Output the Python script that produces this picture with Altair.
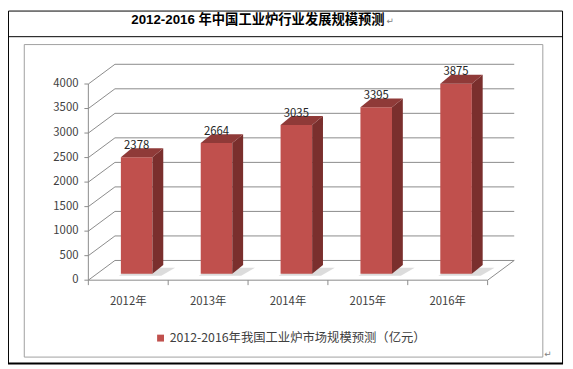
import altair as alt
import pandas as pd

# ---- data ----
years = ["2012年", "2013年", "2014年", "2015年", "2016年"]
values = [2378, 2664, 3035, 3395, 3875]
y_ticks = [0, 500, 1000, 1500, 2000, 2500, 3000, 3500, 4000]
title_text = "2012-2016 年中国工业炉行业发展规模预测"
legend_text = "2012-2016年我国工业炉市场规模预测（亿元）"
series_name = [legend_text]

# ---- styling ----
FONT = "Noto Sans CJK SC"
FRONT = "#C0504D"
SIDE = "#7A2F2D"
TOP = "#8F3A38"
GRID = "#8A8A8A"
TXT = "#404040"

X_RANGE = [81.5, 486.5]      # pixel range of the front category axis
Y_RANGE = [273.5, 74.5]      # pixel range of 0..4000 on the front value axis
Y_MAX = 4000
n = len(years)
PX_X = (X_RANGE[1] - X_RANGE[0]) / n
PX_Y = (Y_RANGE[0] - Y_RANGE[1]) / Y_MAX

DX, DY = 27, -20             # wall / floor depth (px)
BX, BY = 8.5, -6.5           # bar placement inside the depth (px)
BAR_W = 32                   # bar front width (px)
BDX, BDY = 11, -9            # bar depth (px)

xs = alt.Scale(domain=[0, n], range=X_RANGE, nice=False, zero=False)
ys = alt.Scale(domain=[0, Y_MAX], range=Y_RANGE, nice=False, zero=False)


def X(f):
    return alt.X(f, scale=xs, axis=None, stack=None)


def Y(f):
    return alt.Y(f, scale=ys, axis=None, stack=None)


# ---- tables built from the arrays ----
grid = pd.DataFrame({"v": y_ticks, "x0": 0, "x1": n,
                     "label": [str(t) for t in y_ticks]})
xt = pd.DataFrame({"t": list(range(n + 1)), "z": 0})
floor_r = pd.DataFrame({"x": [n], "z": [0]})
front_axis = pd.DataFrame({"x0": [0], "x1": [n], "z": [0], "top": [Y_MAX]})

half = (BAR_W / 2) / PX_X
bars = pd.DataFrame({"i": range(n), "year": years, "value": values})
bars["xc"] = bars["i"] + 0.5
bars["xl"] = bars["xc"] - half
bars["xr"] = bars["xc"] + half
bars["zero"] = 0
bars["label"] = [str(v) for v in values]
bars["series"] = series_name * n

side_rows, top_rows, shadow_rows = [], [], []
for _, r in bars.iterrows():
    for k in (0, 1):
        side_rows.append({"bar": r["i"],
                          "x": r["xr"] + k * BDX / PX_X,
                          "y": k * (-BDY) / PX_Y,
                          "y2": r["value"] + k * (-BDY) / PX_Y})
        top_rows.append({"bar": r["i"],
                         "y": r["value"] + k * (-BDY) / PX_Y,
                         "x": r["xl"] + k * BDX / PX_X,
                         "x2": r["xr"] + k * BDX / PX_X})
        shadow_rows.append({"bar": r["i"],
                            "y": (-2 + k * (-BDY - 1)) / PX_Y,
                            "x": r["xl"] + (-2 + k * (BDX + 2)) / PX_X,
                            "x2": r["xr"] + (9 + k * (BDX + 3)) / PX_X})
side = pd.DataFrame(side_rows)
top = pd.DataFrame(top_rows)
shadow = pd.DataFrame(shadow_rows)

one = pd.DataFrame({"a": [0]})

# ---- decorations (table + chart frame) ----
table_box = alt.Chart(one).mark_rect(fill=None, stroke="#000000", strokeWidth=1).encode(
    x=alt.value(0.5), x2=alt.value(562.5), y=alt.value(0.5), y2=alt.value(358))
table_bottom = alt.Chart(one).mark_rule(color="#000000", strokeWidth=2).encode(
    x=alt.value(0), x2=alt.value(563), y=alt.value(358), y2=alt.value(358))
title_line = alt.Chart(one).mark_rule(color="#000000", strokeWidth=1).encode(
    x=alt.value(0.5), x2=alt.value(562.5), y=alt.value(26.5), y2=alt.value(26.5))
chart_frame = alt.Chart(one).mark_rect(fill=None, stroke="#A0A0A0", strokeWidth=1).encode(
    x=alt.value(16.5), x2=alt.value(542.5), y=alt.value(34.5), y2=alt.value(351.5))

title = alt.Chart(pd.DataFrame({"t": [title_text]})).mark_text(
    align="left", baseline="middle", fontWeight="bold", fontSize=13.5,
    font="Liberation Sans, Noto Sans CJK SC", color="#000000").encode(
    x=alt.value(125), y=alt.value(10), text="t:N")
mark1 = alt.Chart(pd.DataFrame({"t": ["↵"]})).mark_text(
    align="left", baseline="middle", fontSize=9, font="DejaVu Sans", color="#808080").encode(
    x=alt.value(384), y=alt.value(11), text="t:N")
mark2 = alt.Chart(pd.DataFrame({"t": ["↵"]})).mark_text(
    align="left", baseline="middle", fontSize=9, font="DejaVu Sans", color="#808080").encode(
    x=alt.value(544), y=alt.value(348), text="t:N")

# ---- 3D walls ----
back_grid = alt.Chart(grid).mark_rule(
    color=GRID, strokeWidth=1, xOffset=DX, x2Offset=DX, yOffset=DY, y2Offset=DY).encode(
    x=X("x0:Q"), x2="x1:Q", y=Y("v:Q"), y2="v:Q")
left_wall = alt.Chart(grid).mark_rule(
    color=GRID, strokeWidth=1, x2Offset=DX, y2Offset=DY).encode(
    x=X("x0:Q"), x2="x0:Q", y=Y("v:Q"), y2="v:Q")
floor_right = alt.Chart(floor_r).mark_rule(
    color=GRID, strokeWidth=1, x2Offset=DX, y2Offset=DY).encode(
    x=X("x:Q"), x2="x:Q", y=Y("z:Q"), y2="z:Q")
x_axis_line = alt.Chart(front_axis).mark_rule(color=GRID, strokeWidth=1).encode(
    x=X("x0:Q"), x2="x1:Q", y=Y("z:Q"), y2="z:Q")
y_axis_line = alt.Chart(front_axis).mark_rule(color=GRID, strokeWidth=1).encode(
    x=X("x0:Q"), x2="x0:Q", y=Y("z:Q"), y2="top:Q")
y_tick_marks = alt.Chart(grid).mark_rule(color=GRID, strokeWidth=1, xOffset=-4).encode(
    x=X("x0:Q"), x2="x0:Q", y=Y("v:Q"), y2="v:Q")
x_tick_marks = alt.Chart(xt).mark_rule(color=GRID, strokeWidth=1, y2Offset=5).encode(
    x=X("t:Q"), x2="t:Q", y=Y("z:Q"), y2="z:Q")

y_labels = alt.Chart(grid).mark_text(
    align="right", baseline="middle", dx=-10, font=FONT, fontSize=11.5, color=TXT).encode(
    x=X("x0:Q"), y=Y("v:Q"), text="label:N")
x_labels = alt.Chart(bars).mark_text(
    align="center", baseline="middle", dy=22, font=FONT, fontSize=11.5, color=TXT).encode(
    x=X("xc:Q"), y=Y("zero:Q"), text="year:N")

# ---- bars ----
shadows = alt.Chart(shadow).mark_area(
    orient="horizontal", color="#9A9A9A", opacity=0.35, xOffset=BX, x2Offset=BX, yOffset=BY).encode(
    y=Y("y:Q"), x=X("x:Q"), x2="x2:Q", detail="bar:N")
front = alt.Chart(bars).mark_rect(
    xOffset=BX, x2Offset=BX, yOffset=BY, y2Offset=BY).encode(
    x=X("xl:Q"), x2="xr:Q", y=Y("zero:Q"), y2="value:Q",
    color=alt.Color("series:N", scale=alt.Scale(domain=series_name, range=[FRONT]),
                    legend=alt.Legend(orient="none", legendX=148.5, legendY=326, title=None,
                                      symbolType="square", symbolSize=49, symbolStrokeWidth=0,
                                      labelFont=FONT, labelFontSize=12.5, labelColor=TXT,
                                      labelOffset=3, padding=0, labelLimit=400)))
side_face = alt.Chart(side).mark_area(
    color=SIDE, xOffset=BX, yOffset=BY, y2Offset=BY, interpolate="linear").encode(
    x=X("x:Q"), y=Y("y:Q"), y2="y2:Q", detail="bar:N")
top_face = alt.Chart(top).mark_area(
    orient="horizontal", color=TOP, xOffset=BX, x2Offset=BX, yOffset=BY).encode(
    y=Y("y:Q"), x=X("x:Q"), x2="x2:Q", detail="bar:N")
data_labels = alt.Chart(bars).mark_text(
    align="center", baseline="alphabetic", dx=BX, dy=-15, font=FONT, fontSize=11.5,
    color="#262626").encode(
    x=X("xc:Q"), y=Y("value:Q"), text="label:N")

chart = alt.layer(
    table_box, table_bottom, title_line, chart_frame,
    back_grid, left_wall, floor_right, x_axis_line, y_axis_line,
    y_tick_marks, x_tick_marks, y_labels, x_labels,
    shadows, front, side_face, top_face, data_labels,
    title, mark1, mark2,
).properties(
    width=565, height=361,
    autosize=alt.AutoSizeParams(type="none"),
    padding=0,
).configure_view(stroke=None)

chart.save("out.html", embed_options={"renderer": "svg", "actions": False})
